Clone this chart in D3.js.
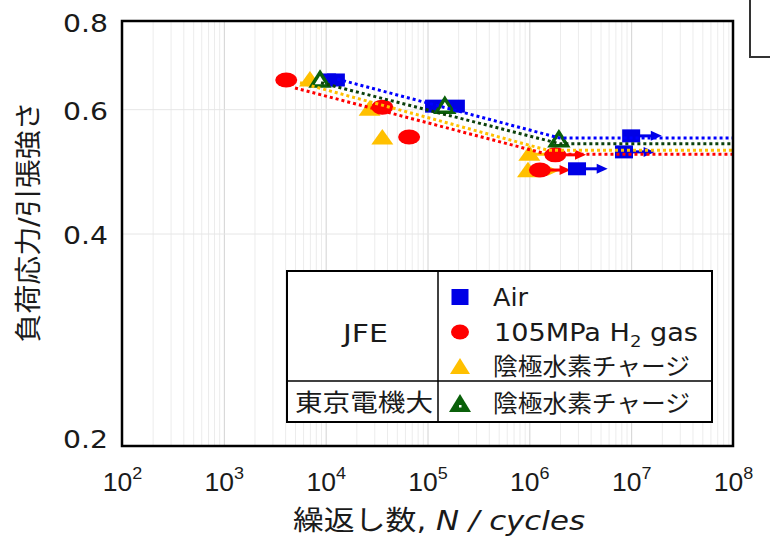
<!DOCTYPE html>
<html>
<head>
<meta charset="utf-8">
<script src="https://cdn.jsdelivr.net/npm/d3@7"></script>
<style>
  body { margin: 0; background: #fff; }
  svg { font-family: "DejaVu Sans", "Noto Sans CJK JP", sans-serif; }
</style>
</head>
<body>
<svg id="chart" width="770" height="538"></svg>
<script>
// ---- data ----
// JFE, Air
var airN      = [1.03e4, 1.26e4, 1.16e5, 1.9e5, 2.94e6, 1.0e7, 8.5e6];
var airS      = [0.66, 0.66, 0.606, 0.606, 0.494, 0.550, 0.522];
var airRunout = [0, 0, 0, 0, 1, 1, 1];
// JFE, 105MPa H2 gas
var gasN      = [4.1e3, 3.6e4, 6.6e4, 1.8e6, 1.27e6];
var gasS      = [0.66, 0.604, 0.548, 0.517, 0.492];
var gasRunout = [0, 0, 0, 1, 1];
// JFE, cathodic charge
var jfeN      = [7.0e3, 2.7e4, 3.6e4, 1.0e6, 9.7e5];
var jfeS      = [0.66, 0.60, 0.546, 0.518, 0.491];
var jfeRunout = [0, 0, 0, 1, 1];
// TDU, cathodic charge
var tduN      = [8.8e3, 1.48e5, 1.95e6];
var tduS      = [0.66, 0.606, 0.543];
var tduRunout = [0, 0, 0];

// dotted trend lines (knee + fatigue limit)
var airLineN = [1.3e4, 2.0e6, 1e8],  airLineS = [0.662, 0.546, 0.546];
var tduLineN = [9.0e3, 2.0e6, 1e8],  tduLineS = [0.654, 0.536, 0.536];
var jfeLineN = [5.6e3, 1.5e6, 1e8],  jfeLineS = [0.654, 0.525, 0.525];
var gasLineN = [5.0e3, 1.5e6, 1e8],  gasLineS = [0.643, 0.518, 0.518];

var xTicks = [1e2, 1e3, 1e4, 1e5, 1e6, 1e7, 1e8];
var yTicks = [0.2, 0.4, 0.6, 0.8];

var BLUE = "#0000e6", RED = "#ff0000", YELLOW = "#ffc000", GREEN = "#0a600a";

var svg = d3.select("#chart");
var pL = 122, pR = 733, pT = 21, pB = 446;

var x = d3.scaleLog().domain([1e2, 1e8]).range([pL, pR]);
var y = d3.scaleLog().domain([0.2, 0.8]).range([pB, pT]);

// minor vertical grid
var minor = [];
for (var e = 2; e < 8; e++) for (var k = 2; k < 10; k++) minor.push(k * Math.pow(10, e));

svg.append("g")
  .attr("transform", "translate(0," + pB + ")")
  .call(d3.axisBottom(x).tickValues(minor).tickSize(-(pB - pT)).tickFormat(""))
  .call(function(g) { g.select(".domain").remove(); })
  .selectAll("line").attr("stroke", "#ececec");

svg.append("g")
  .attr("transform", "translate(0," + pB + ")")
  .call(d3.axisBottom(x).tickValues(xTicks.slice(1, -1)).tickSize(-(pB - pT)).tickFormat(""))
  .call(function(g) { g.select(".domain").remove(); })
  .selectAll("line").attr("stroke", "#d2d2d2");

svg.append("g")
  .attr("transform", "translate(" + pL + ",0)")
  .call(d3.axisLeft(y).tickValues([0.4, 0.6]).tickSize(-(pR - pL)).tickFormat(""))
  .call(function(g) { g.select(".domain").remove(); })
  .selectAll("line").attr("stroke", "#e6e6e6");

// x axis labels 10^n
var xa = svg.append("g")
  .attr("transform", "translate(0," + pB + ")")
  .call(d3.axisBottom(x).tickValues(xTicks).tickSize(0).tickPadding(0).tickFormat(""));
xa.select(".domain").remove();
xa.selectAll(".tick text").remove();
xa.selectAll(".tick").append("text")
  .attr("y", 45)
  .attr("fill", "#1a1a1a")
  .attr("text-anchor", "middle")
  .attr("font-size", 25)
  .attr("transform", "scale(1.06,1)")
  .each(function(d) {
    var t = d3.select(this);
    t.append("tspan").text("10");
    t.append("tspan").attr("font-size", 17).attr("dy", -12).text(Math.round(Math.log10(d)));
  });

// y axis labels
var ya = svg.append("g")
  .attr("transform", "translate(" + pL + ",0)")
  .call(d3.axisLeft(y).tickValues(yTicks).tickSize(0).tickFormat(d3.format(".1f")));
ya.select(".domain").remove();
ya.selectAll(".tick text")
  .attr("x", -14 / 1.18)
  .attr("dy", function(d) { return d === 0.2 ? "0.05em" : "0.42em"; })
  .attr("fill", "#1a1a1a")
  .attr("font-size", 24)
  .attr("font-family", "DejaVu Sans")
  .attr("transform", "scale(1.18,1)");

// markers
function drawSeries(N, S, R, color, shape) {
  var g = svg.append("g");
  var data = N.map(function(n, i) { return { n: n, s: S[i], r: R[i] }; });
  var runs = data.filter(function(d) { return d.r; });
  g.selectAll("line.run").data(runs).enter().append("line")
    .attr("x1", function(d) { return x(d.n); })
    .attr("x2", function(d) { return x(d.n * 2) - 9; })
    .attr("y1", function(d) { return y(d.s); })
    .attr("y2", function(d) { return y(d.s); })
    .attr("stroke", color).attr("stroke-width", 3);
  g.selectAll("path.head").data(runs).enter().append("path")
    .attr("d", function(d) {
      var tx = x(d.n * 2), ty = y(d.s);
      return "M" + tx + "," + ty + "L" + (tx - 11) + "," + (ty - 5) + "L" + (tx - 11) + "," + (ty + 5) + "Z";
    })
    .attr("fill", color);
  var m = g.selectAll(".m").data(data).enter();
  if (shape === "square") {
    m.append("rect")
      .attr("x", function(d) { return x(d.n) - 9; })
      .attr("y", function(d) { return y(d.s) - 6.5; })
      .attr("width", 18).attr("height", 13).attr("fill", color);
  } else if (shape === "circle") {
    m.append("ellipse")
      .attr("cx", function(d) { return x(d.n); })
      .attr("cy", function(d) { return y(d.s); })
      .attr("rx", 11).attr("ry", 7.5).attr("fill", color);
  } else if (shape === "tri") {
    m.append("path")
      .attr("d", function(d) {
        var cx = x(d.n), cy = y(d.s);
        return "M" + cx + "," + (cy - 9) + "L" + (cx + 11) + "," + (cy + 6.5) + "L" + (cx - 11) + "," + (cy + 6.5) + "Z";
      })
      .attr("fill", color);
  } else {
    m.append("path")
      .attr("d", function(d) {
        var cx = x(d.n), cy = y(d.s);
        return "M" + cx + "," + (cy - 7.5) + "L" + (cx + 8.5) + "," + (cy + 6) + "L" + (cx - 8.5) + "," + (cy + 6) + "Z";
      })
      .attr("fill", "#fff").attr("stroke", color).attr("stroke-width", 3.5)
      .attr("stroke-linejoin", "miter");
  }
}

drawSeries(jfeN, jfeS, jfeRunout, YELLOW, "tri");
drawSeries(gasN, gasS, gasRunout, RED, "circle");
drawSeries(airN, airS, airRunout, BLUE, "square");
drawSeries(tduN, tduS, tduRunout, GREEN, "open");

// dotted trend lines
var line = d3.line().x(function(d) { return x(d[0]); }).y(function(d) { return y(d[1]); });
function trend(N, S, color) {
  svg.append("path")
    .datum(N.map(function(n, i) { return [n, S[i]]; }))
    .attr("d", line)
    .attr("fill", "none").attr("stroke", color)
    .attr("stroke-width", 3).attr("stroke-dasharray", "3,3");
}
trend(gasLineN, gasLineS, RED);
trend(jfeLineN, jfeLineS, YELLOW);
trend(tduLineN, tduLineS, "#0b400b");
trend(airLineN, airLineS, "#0000ff");

// frame
svg.append("rect")
  .attr("x", pL).attr("y", pT).attr("width", pR - pL).attr("height", pB - pT)
  .attr("fill", "none").attr("stroke", "#000").attr("stroke-width", 2.5);

// clipped box at top right
svg.append("rect")
  .attr("x", 750).attr("y", -3).attr("width", 40).attr("height", 60)
  .attr("fill", "none").attr("stroke", "#333").attr("stroke-width", 2);

// axis titles
svg.append("text")
  .attr("transform", "translate(38,222) rotate(-90)")
  .attr("text-anchor", "middle")
  .attr("font-size", 27).attr("fill", "#1a1a1a")
  .attr("textLength", 241).attr("lengthAdjust", "spacingAndGlyphs")
  .text("負荷応力/引張強さ");

var xt = svg.append("text")
  .attr("x", 439).attr("y", 530)
  .attr("text-anchor", "middle")
  .attr("font-size", 27).attr("fill", "#1a1a1a")
  .attr("textLength", 292).attr("lengthAdjust", "spacingAndGlyphs");
xt.append("tspan").text("繰返し数, ");
xt.append("tspan").attr("font-style", "italic").text("N / cycles");

// legend table
var lg = svg.append("g");
var lx0 = 287, lx1 = 712, ly0 = 271, ly1 = 422, ldiv = 438, lrow = 381;
lg.append("rect").attr("x", lx0).attr("y", ly0).attr("width", lx1 - lx0).attr("height", ly1 - ly0)
  .attr("fill", "#fff").attr("stroke", "#000").attr("stroke-width", 2);
lg.append("line").attr("x1", ldiv).attr("x2", ldiv).attr("y1", ly0).attr("y2", ly1)
  .attr("stroke", "#000").attr("stroke-width", 1.5);
lg.append("line").attr("x1", lx0).attr("x2", lx1).attr("y1", lrow).attr("y2", lrow)
  .attr("stroke", "#000").attr("stroke-width", 1.5);

function ltext(tx, ty, str, len) {
  return lg.append("text").attr("x", tx).attr("y", ty)
    .attr("font-size", 24).attr("fill", "#1a1a1a")
    .attr("textLength", len).attr("lengthAdjust", "spacingAndGlyphs")
    .text(str);
}
ltext(343, 342, "JFE", 45);
ltext(295, 411, "東京電機大", 138);
ltext(493, 306, "Air", 35);
var gt = ltext(494, 341, "", 204);
gt.append("tspan").text("105MPa H");
gt.append("tspan").attr("font-size", 16).attr("dy", 6).text("2");
gt.append("tspan").attr("dy", -6).text(" gas");
ltext(493, 375, "陰極水素チャージ", 197);
ltext(493, 412, "陰極水素チャージ", 197);

var sx = 460;
lg.append("rect").attr("x", sx - 8.5).attr("y", 297 - 8).attr("width", 17).attr("height", 16).attr("fill", BLUE);
lg.append("ellipse").attr("cx", sx).attr("cy", 332).attr("rx", 9).attr("ry", 7.5).attr("fill", RED);
lg.append("path").attr("d", "M" + sx + ",358L" + (sx + 10) + ",374L" + (sx - 10) + ",374Z").attr("fill", YELLOW);
lg.append("path").attr("d", "M" + sx + ",394L" + (sx + 11) + ",412L" + (sx - 11) + ",412Z").attr("fill", GREEN);
lg.append("rect").attr("x", sx - 1).attr("y", 405).attr("width", 2.5).attr("height", 2.5).attr("fill", "#fff");
</script>
</body>
</html>
